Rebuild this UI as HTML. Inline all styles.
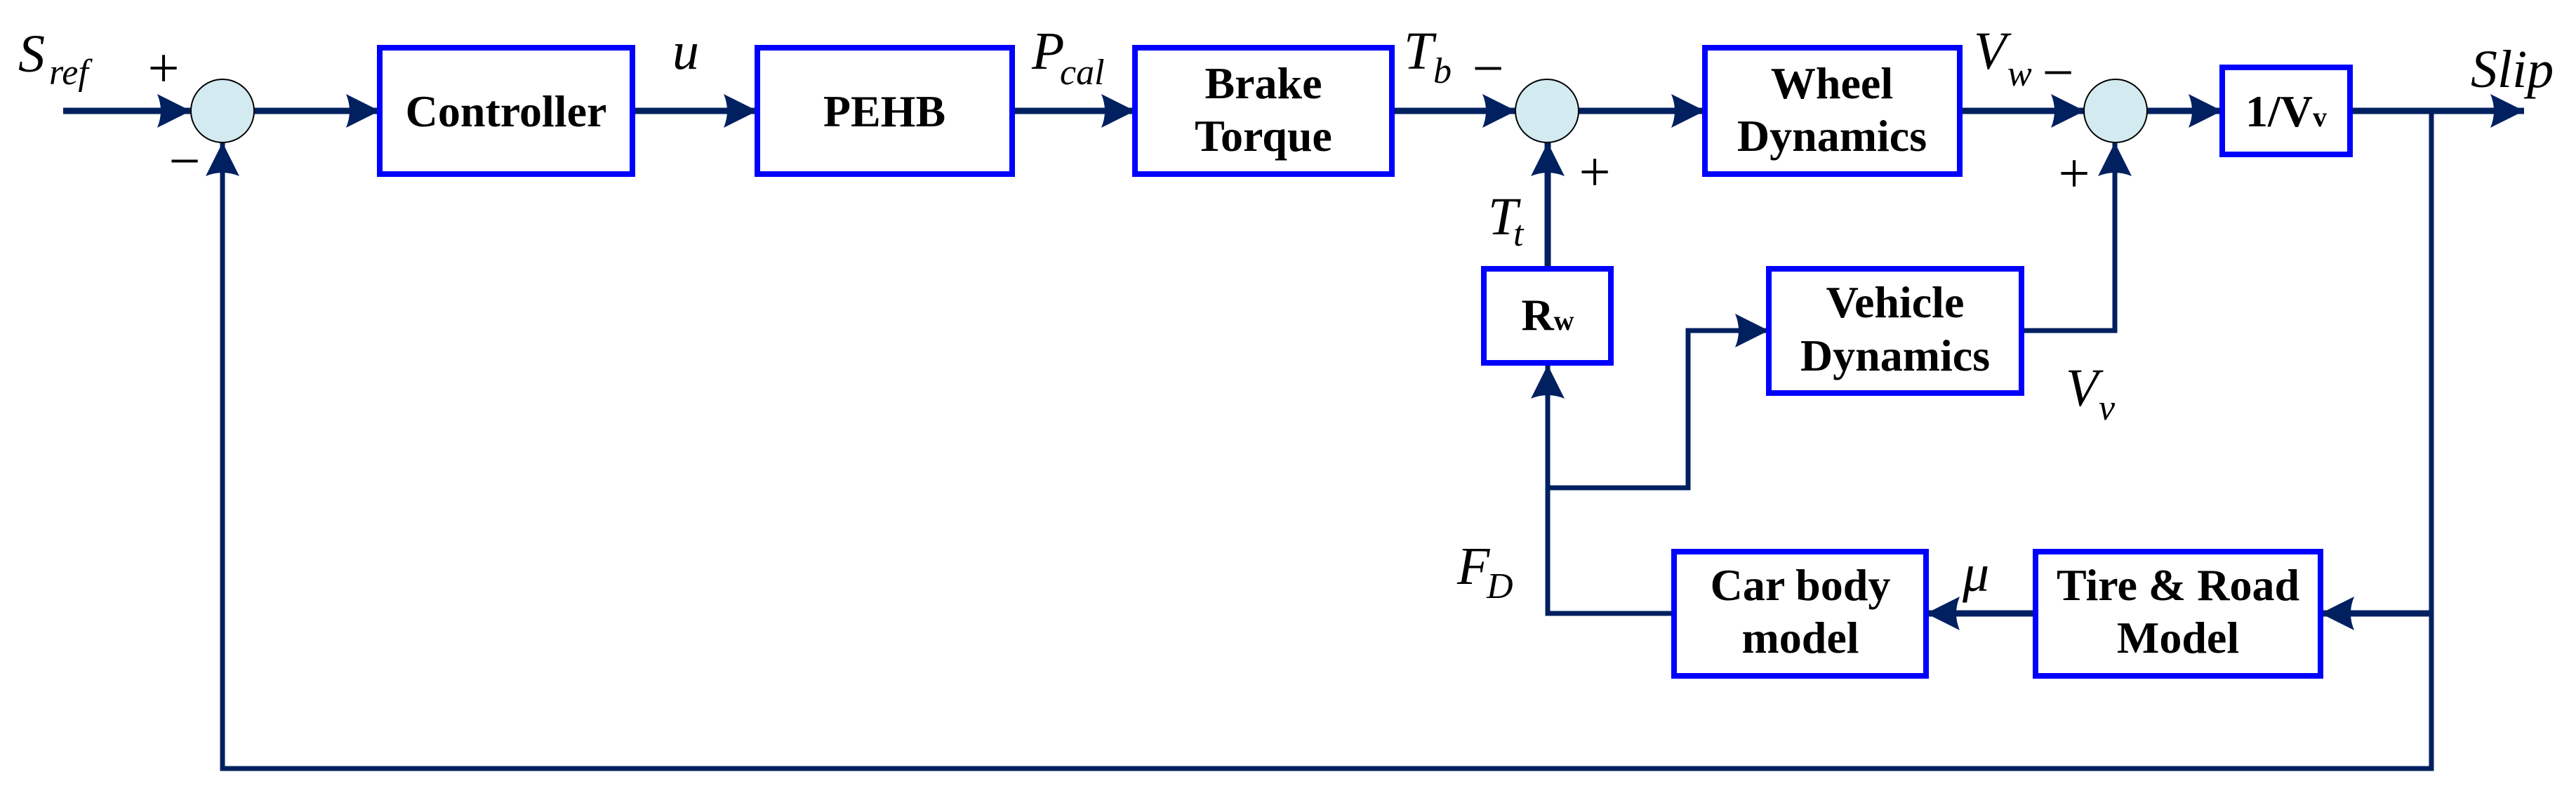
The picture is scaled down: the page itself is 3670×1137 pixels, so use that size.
<!DOCTYPE html>
<html><head><meta charset="utf-8"><style>html,body{margin:0;padding:0;background:#fff}svg{display:block}</style></head>
<body>
<svg width="3670" height="1137" viewBox="0 0 3670 1137" xmlns="http://www.w3.org/2000/svg">
<defs>
<marker id="ah" viewBox="0 0 50 50" refX="48" refY="25" markerWidth="50" markerHeight="50" markerUnits="userSpaceOnUse" orient="auto">
<path d="M0,1 L48,25 L0,49 Q10,25 0,1 Z" fill="#002060"/>
</marker>
</defs>
<g stroke="#002060" fill="none" stroke-linejoin="miter">
<g stroke-width="9">
<line x1="90" y1="158" x2="272" y2="158" marker-end="url(#ah)"/>
<line x1="362" y1="158" x2="541" y2="158" marker-end="url(#ah)"/>
<line x1="901" y1="158" x2="1079" y2="158" marker-end="url(#ah)"/>
<line x1="1442" y1="158" x2="1617" y2="158" marker-end="url(#ah)"/>
<line x1="1983" y1="158" x2="2160" y2="158" marker-end="url(#ah)"/>
<line x1="2249" y1="158" x2="2429" y2="158" marker-end="url(#ah)"/>
<line x1="2792" y1="158" x2="2970" y2="158" marker-end="url(#ah)"/>
<line x1="3058" y1="158" x2="3166" y2="158" marker-end="url(#ah)"/>
<line x1="3348" y1="158" x2="3596" y2="158" marker-end="url(#ah)"/>
<polyline points="2880,471 3013,471 3013,203" stroke-width="7" marker-end="url(#ah)"/>
<polyline points="2205,695 2405,695 2405,471 2520,471" stroke-width="7" marker-end="url(#ah)"/>
<polyline points="2385,874 2205,874 2205,520" stroke-width="7" marker-end="url(#ah)"/>
<line x1="2900" y1="874" x2="2744" y2="874" marker-end="url(#ah)"/>
<line x1="3464" y1="874" x2="3306" y2="874" marker-end="url(#ah)"/>
</g>
<line x1="2205" y1="379" x2="2205" y2="203" stroke-width="9" marker-end="url(#ah)"/>
<polyline points="3464,158 3464,1095 317,1095 317,203" stroke-width="7" marker-end="url(#ah)"/>
</g>
<g fill="#d2eaf0" stroke="#000" stroke-width="2">
<circle cx="317" cy="158" r="45"/>
<circle cx="2204" cy="158" r="45"/>
<circle cx="3014" cy="158" r="45"/>
</g>
<g fill="#fff" stroke="#0000ff" stroke-width="8">
<rect x="541" y="68" width="360" height="180"/>
<rect x="1079" y="68" width="363" height="180"/>
<rect x="1617" y="68" width="366" height="180"/>
<rect x="2429" y="68" width="363" height="180"/>
<rect x="3166" y="96" width="182" height="124"/>
<rect x="2114" y="383" width="181" height="134"/>
<rect x="2520" y="383" width="360" height="177"/>
<rect x="2385" y="786" width="359" height="177"/>
<rect x="2900" y="786" width="406" height="177"/>
</g>
<g font-family="'Liberation Serif',serif" font-weight="bold" font-size="64" text-anchor="middle" fill="#000">
<text x="721" y="180">Controller</text>
<text x="1260" y="180">PEHB</text>
<text x="1800" y="140">Brake</text>
<text x="1800" y="215">Torque</text>
<text x="2610" y="140">Wheel</text>
<text x="2610" y="215">Dynamics</text>
<text x="3257" y="180">1/V<tspan font-size="40">v</tspan></text>
<text x="2205" y="470">R<tspan font-size="40">w</tspan></text>
<text x="2700" y="452">Vehicle</text>
<text x="2700" y="528">Dynamics</text>
<text x="2565" y="855">Car body</text>
<text x="2565" y="930">model</text>
<text x="3103" y="855">Tire &amp; Road</text>
<text x="3103" y="930">Model</text>
</g>
<g font-family="'Liberation Serif',serif" font-style="italic" font-size="76" fill="#000">
<text x="26" y="102">S</text><text x="70" y="120" font-size="52">ref</text>
<text x="958" y="98">u</text>
<text x="1470" y="98">P</text><text x="1510" y="120" font-size="52">cal</text>
<text x="2000" y="98">T</text><text x="2042" y="118" font-size="52">b</text>
<text x="2812" y="98">V</text><text x="2860" y="122" font-size="52">w</text>
<text x="3520" y="124">Slip</text>
<text x="2120" y="334">T</text><text x="2156" y="350" font-size="52">t</text>
<text x="2943" y="578">V</text><text x="2990" y="598" font-size="52">v</text>
<text x="2076" y="832">F</text><text x="2118" y="852" font-size="52">D</text>
<text x="2796" y="842">μ</text>
</g>
<g font-family="'Liberation Serif',serif" font-size="80" fill="#000" text-anchor="middle">
<text x="233" y="124">+</text>
<text x="263" y="256">−</text>
<text x="2120" y="124">−</text>
<text x="2272" y="272">+</text>
<text x="2932" y="130">−</text>
<text x="2955" y="274">+</text>
</g>
</svg>
</body></html>
